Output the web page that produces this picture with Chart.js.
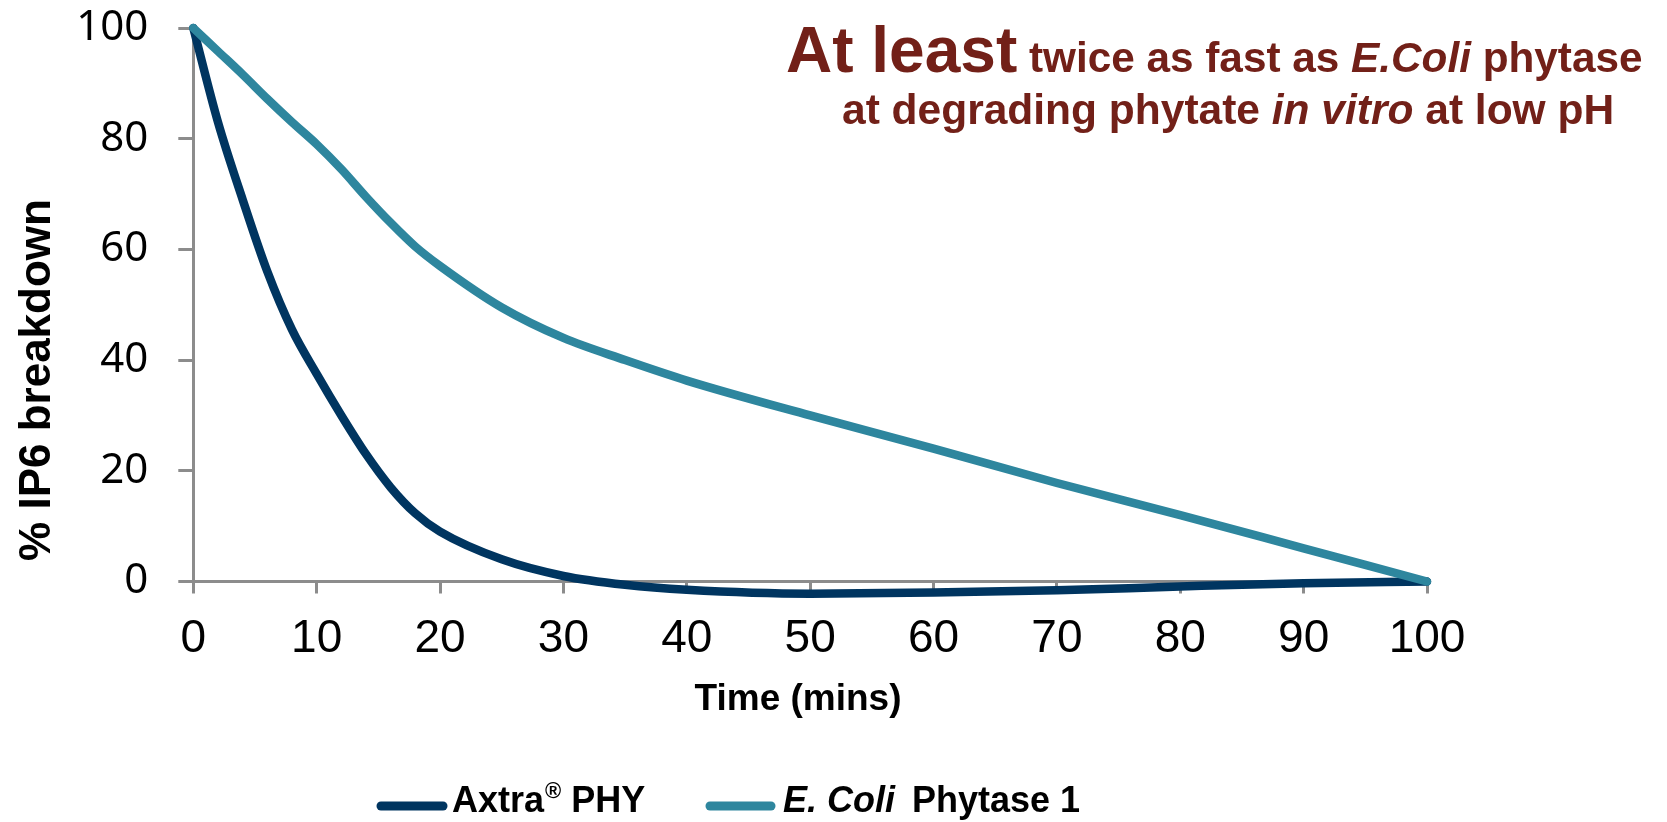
<!DOCTYPE html>
<html>
<head>
<meta charset="utf-8">
<script src="https://cdn.jsdelivr.net/npm/chart.js@4.4.1/dist/chart.umd.min.js"></script>
<style>
  html, body { margin: 0; padding: 0; background: #ffffff; }
  #wrap { width: 1667px; height: 822px; }
</style>
</head>
<body>
<div id="wrap"><canvas id="c" width="1667" height="822"></canvas></div>
<script>
// ---- Data ----
const timeMins = [0, 2, 4, 6, 8, 10, 12, 14, 16, 18, 20, 25, 30, 35, 40, 50, 60, 70, 80, 90, 100];
const axtraPHY = [100, 83, 69, 56, 45.5, 37.5, 30, 23, 17, 12.3, 9, 4, 1, -0.6, -1.5, -2.2, -2.0, -1.6, -0.9, -0.3, 0];
const eColiPhytase1 = [100, 95.8, 91.6, 87.2, 83, 79, 74.5, 69.5, 64.8, 60.5, 57, 49.5, 44, 40, 36.3, 30, 24, 17.8, 12, 6, 0];
const xTicks = [0, 10, 20, 30, 40, 50, 60, 70, 80, 90, 100];
const yTicks = [0, 20, 40, 60, 80, 100];
const seriesNames = ['Axtra® PHY', 'E. Coli Phytase 1'];
const xAxisTitle = 'Time (mins)';
const yAxisTitle = '% IP6 breakdown';
const titleLines = [
  [{t: 'At least', size: 64}, {t: ' twice as fast as ', size: 42.3}, {t: 'E.Coli', size: 42.3, italic: true}, {t: ' phytase', size: 42.3}],
  [{t: 'at degrading phytate ', size: 42.5}, {t: 'in vitro', size: 42.5, italic: true}, {t: ' at low pH', size: 42.5}]
];

const DARK = '#003560';
const LIGHT = '#2e869e';
const AXIS = '#8c8c8c';
const TITLE_RED = '#722018';
const FONT = '"Liberation Sans", Arial, sans-serif';

function toPoints(xs, ys) { return xs.map((x, i) => ({x: x, y: ys[i]})); }

const decor = {
  id: 'decor',
  afterDraw(chart) {
    const ctx = chart.ctx;
    ctx.save();
    // Title (mixed styles)
    const starts = [786, 842];
    const baselines = [72, 124];
    titleLines.forEach((line, li) => {
      let x = starts[li];
      line.forEach(seg => {
        ctx.font = (seg.italic ? 'italic ' : '') + 'bold ' + seg.size + 'px ' + FONT;
        ctx.fillStyle = TITLE_RED;
        ctx.textBaseline = 'alphabetic';
        ctx.textAlign = 'left';
        ctx.fillText(seg.t, x, baselines[li]);
        x += ctx.measureText(seg.t).width;
      });
    });

    // Axis titles
    ctx.fillStyle = '#000';
    ctx.font = 'bold 37px ' + FONT;
    ctx.textAlign = 'center';
    ctx.textBaseline = 'alphabetic';
    ctx.fillText(xAxisTitle, 798, 710);

    ctx.save();
    ctx.translate(50, 380);
    ctx.rotate(-Math.PI / 2);
    ctx.font = 'bold 44px ' + FONT;
    ctx.textAlign = 'center';
    ctx.textBaseline = 'alphabetic';
    ctx.fillText(yAxisTitle, 0, 0);
    ctx.restore();

    // Legend
    const ds = chart.data.datasets;
    const legendY = 806;
    const baseY = 812;
    ctx.lineCap = 'round';
    ctx.lineWidth = 9;
    ctx.strokeStyle = ds[0].borderColor;
    ctx.beginPath(); ctx.moveTo(381, legendY); ctx.lineTo(443, legendY); ctx.stroke();
    ctx.fillStyle = '#000';
    ctx.textAlign = 'left';
    ctx.font = 'bold 36px ' + FONT;
    let x = 452;
    ctx.fillText('Axtra', x, baseY); x += ctx.measureText('Axtra').width + 1;
    ctx.font = 'bold 22px ' + FONT;
    ctx.fillText('®', x, baseY - 14); x += ctx.measureText('®').width;
    ctx.font = 'bold 36px ' + FONT;
    ctx.fillText(' PHY', x, baseY);
    ctx.strokeStyle = ds[1].borderColor;
    ctx.beginPath(); ctx.moveTo(710, legendY); ctx.lineTo(771, legendY); ctx.stroke();
    x = 783;
    ctx.font = 'italic bold 36px ' + FONT;
    ctx.fillText('E. Coli', x, baseY); x += ctx.measureText('E. Coli').width;
    ctx.font = 'bold 36px ' + FONT;
    x += 17;
    ctx.fillText('Phytase 1', x, baseY);
    ctx.restore();
  }
};

new Chart(document.getElementById('c'), {
  type: 'line',
  data: {
    datasets: [
      {
        label: seriesNames[0],
        data: toPoints(timeMins, axtraPHY),
        borderColor: DARK,
        backgroundColor: DARK,
        borderWidth: 8.5,
        pointRadius: 0,
        cubicInterpolationMode: 'monotone',
        borderCapStyle: 'round',
        borderJoinStyle: 'round',
        clip: false,
        order: 1
      },
      {
        label: seriesNames[1],
        data: toPoints(timeMins, eColiPhytase1),
        borderColor: LIGHT,
        backgroundColor: LIGHT,
        borderWidth: 8.5,
        pointRadius: 0,
        cubicInterpolationMode: 'monotone',
        borderCapStyle: 'round',
        borderJoinStyle: 'round',
        clip: false,
        order: 0
      }
    ]
  },
  options: {
    responsive: false,
    devicePixelRatio: 1,
    animation: false,
    layout: { padding: { top: 28, right: 240, bottom: 0, left: 0 } },
    plugins: {
      legend: { display: false },
      title: { display: false },
      tooltip: { enabled: false }
    },
    scales: {
      x: {
        type: 'linear',
        min: 0, max: 100,
        afterBuildTicks: s => { s.ticks = xTicks.map(v => ({value: v})); },
        afterFit: s => { s.height = 240.5; s.paddingLeft = 0; s.paddingRight = 0; },
        ticks: {
          color: '#000',
          font: { family: '"Liberation Sans Narrow", "Arial Narrow", "Liberation Sans", sans-serif', size: 46 },
          padding: 18,
          maxRotation: 0,
          autoSkip: false
        },
        grid: { display: true, drawOnChartArea: false, drawTicks: true, tickLength: 12, color: AXIS, lineWidth: 3 },
        border: { display: true, color: AXIS, width: 3 }
      },
      y: {
        type: 'linear',
        min: 0, max: 100,
        afterBuildTicks: s => { s.ticks = yTicks.map(v => ({value: v})); },
        afterFit: s => { s.width = 193.3; s.paddingTop = 0; s.paddingBottom = 0; },
        ticks: {
          color: '#000',
          font: { family: '"Noto Sans", "Open Sans", sans-serif', size: 42 },
          padding: 30,
          autoSkip: false
        },
        grid: { display: true, drawOnChartArea: false, drawTicks: true, tickLength: 15, color: AXIS, lineWidth: 3 },
        border: { display: true, color: AXIS, width: 3 }
      }
    }
  },
  plugins: [decor]
});
</script>
</body>
</html>
